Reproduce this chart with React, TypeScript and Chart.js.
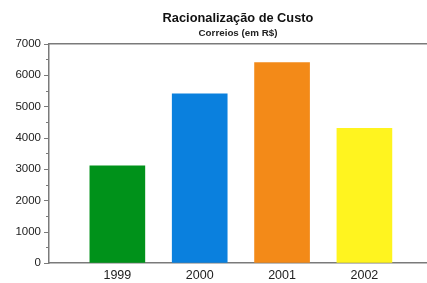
import React, { useEffect, useRef } from "react";
import { Chart, registerables } from "chart.js";

Chart.register(...registerables);

const years = [1999, 2000, 2001, 2002];
const values = [3100, 5400, 6400, 4300];
const barColors = ["#00921a", "#0a80de", "#f38a18", "#fff41f"];
const yTickValues = [0, 1000, 2000, 3000, 4000, 5000, 6000, 7000];
const titleText = "Racionalização de Custo";
const subtitleText = "Correios (em R$)";

const FONT = "'Liberation Sans', Arial, Helvetica, sans-serif";
const AXIS = "#7a7a7a";

const axisPlugin = {
  id: "customAxis",
  afterDraw(chart: any) {
    const { ctx, chartArea } = chart;
    const ys = chart.scales.y;
    ctx.save();
    ctx.strokeStyle = AXIS;
    ctx.lineWidth = 1.5;
    ctx.beginPath();
    ctx.moveTo(chartArea.left, ys.getPixelForValue(7000));
    ctx.lineTo(chart.width, ys.getPixelForValue(7000));
    ctx.stroke();
    ctx.lineWidth = 1;
    for (let v = 0; v <= 7000; v += 500) {
      const y = Math.round(ys.getPixelForValue(v)) + 0.5;
      const len = v % 1000 === 0 ? 5 : 3;
      ctx.beginPath();
      ctx.moveTo(chartArea.left - len, y);
      ctx.lineTo(chartArea.left, y);
      ctx.stroke();
    }
    ctx.restore();
  },
};

export default function App() {
  const ref = useRef<HTMLCanvasElement>(null);
  useEffect(() => {
    document.body.style.margin = "0";
    const chart = new Chart(ref.current!, {
      type: "bar",
      data: {
        datasets: [
          {
            data: years.map((x, i) => ({ x, y: values[i] })),
            backgroundColor: barColors,
            barThickness: 55,
          },
        ],
      },
      options: {
        animation: false,
        responsive: false,
        layout: { padding: { left: 0, right: 0, top: 0, bottom: 0 } },
        plugins: {
          legend: { display: false },
          tooltip: { enabled: false },
          title: {
            display: true,
            text: titleText,
            fullSize: false,
            color: "#111",
            font: { family: FONT, size: 12.8, weight: "bold" },
            padding: { top: 10.5, bottom: 1 },
          },
          subtitle: {
            display: true,
            text: subtitleText,
            fullSize: false,
            color: "#222",
            font: { family: FONT, size: 9.8, weight: "bold" },
            padding: { top: 0.4, bottom: 4.8 },
          },
        },
        scales: {
          x: {
            type: "linear",
            offset: false,
            min: 1998.17,
            max: 2002.76,
            afterBuildTicks: (s: any) => {
              s.ticks = years.map((v) => ({ value: v }));
            },
            afterFit: (s: any) => {
              s.height = 20;
            },
            ticks: {
              callback: (v: any) => String(v),
              color: "#222",
              font: { family: FONT, size: 12.5 },
              padding: 5,
              maxRotation: 0,
              autoSkip: false,
            },
            grid: { display: false, drawTicks: false, offset: false },
            border: { display: true, color: AXIS, width: 1.5 },
          },
          y: {
            min: 0,
            max: 7000,
            afterBuildTicks: (s: any) => {
              s.ticks = yTickValues.map((v) => ({ value: v }));
            },
            afterFit: (s: any) => {
              s.width = 49;
            },
            ticks: {
              callback: (v: any) => String(v),
              color: "#222",
              font: { family: FONT, size: 11.5 },
              padding: 3,
            },
            grid: {
              display: true,
              drawOnChartArea: false,
              tickLength: 5,
              tickColor: "rgba(0,0,0,0)",
              color: "rgba(0,0,0,0)",
            },
            border: { display: true, color: AXIS, width: 1.5 },
          },
        },
      },
      plugins: [axisPlugin],
    } as any);
    return () => chart.destroy();
  }, []);
  return <canvas ref={ref} width={427} height={283} style={{ display: "block" }} />;
}
